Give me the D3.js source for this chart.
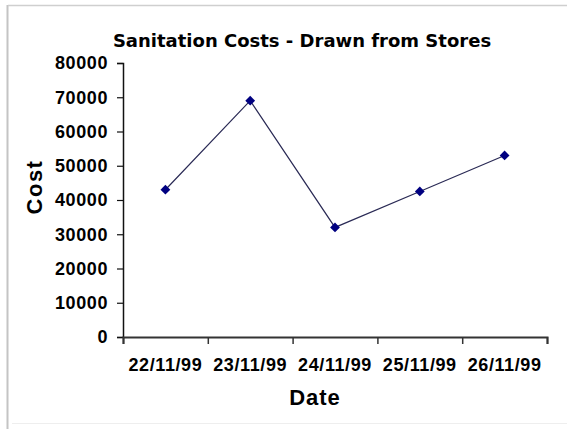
<!DOCTYPE html>
<html>
<head>
<meta charset="utf-8">
<script src="https://cdn.jsdelivr.net/npm/d3@7"></script>
<style>
	body { margin: 0; background: #fff; }
	text { font-family: "Liberation Sans", Arial, sans-serif; font-weight: bold; fill: #000; }
</style>
</head>
<body>
<div id="chart"></div>
<script>
var dates = ['22/11/99', '23/11/99', '24/11/99', '25/11/99', '26/11/99'];
var costs = [43000, 69000, 32000, 42500, 53000];
var yTicks = [0, 10000, 20000, 30000, 40000, 50000, 60000, 70000, 80000];

var width = 585,
	height = 429;
var plot = {
	left: 123,
	right: 547,
	top: 63,
	bottom: 337
};

var svg = d3.select('#chart').append('svg')
	.attr('width', width)
	.attr('height', height);

// frame round the chart
svg.append('line').attr('x1', 7.5).attr('x2', 7.5).attr('y1', 5).attr('y2', height)
	.attr('stroke', '#c4c4c4').attr('stroke-width', 2);
svg.append('line').attr('x1', 8).attr('x2', 567).attr('y1', 5.5).attr('y2', 5.5)
	.attr('stroke', '#cfcfcf').attr('stroke-width', 1.5);
svg.append('line').attr('x1', 12).attr('x2', 567).attr('y1', 423.5).attr('y2', 423.5)
	.attr('stroke', '#eeeeee').attr('stroke-width', 1);

var xScale = d3.scaleBand()
	.domain(dates)
	.range([plot.left, plot.right])
	.padding(0);

var yScale = d3.scaleLinear()
	.domain([0, 80000])
	.range([plot.bottom, plot.top]);

// y axis
var yAxis = svg.append('g')
	.attr('transform', 'translate(' + plot.left + ',0)')
	.call(d3.axisLeft(yScale).tickValues(yTicks).tickSize(6).tickPadding(9).tickFormat(d3.format('d')));
yAxis.select('.domain').attr('stroke', '#111').attr('stroke-width', 1.5);
yAxis.selectAll('.tick line').attr('stroke', '#111').attr('stroke-width', 1.2);
yAxis.selectAll('text')
	.style('font-size', '18px')
	.style('font-family', '"Liberation Sans", Arial')
	.style('font-weight', 'bold')
	.style('letter-spacing', '0.6px');

// x axis: tick marks sit between the categories
var edges = d3.range(dates.length + 1);
var edgeScale = d3.scaleLinear().domain([0, dates.length]).range([plot.left, plot.right]);
var xTicks = svg.append('g')
	.attr('transform', 'translate(0,' + plot.bottom + ')')
	.call(d3.axisBottom(edgeScale).tickValues(edges).tickSize(7).tickFormat(''));
xTicks.select('.domain').attr('stroke', '#333').attr('stroke-width', 2);
xTicks.selectAll('.tick line').attr('stroke', '#333').attr('stroke-width', 1.5);

var xLabels = svg.append('g')
	.attr('transform', 'translate(0,' + plot.bottom + ')')
	.call(d3.axisBottom(xScale).tickSize(0).tickPadding(21));
xLabels.select('.domain').remove();
xLabels.selectAll('text')
	.style('font-size', '18px')
	.style('font-family', '"Liberation Sans", Arial')
	.style('font-weight', 'bold')
	.style('letter-spacing', '0.6px');

// line and markers
var line = d3.line()
	.x((d, i) => xScale(dates[i]) + xScale.bandwidth() / 2)
	.y(d => yScale(d));

svg.append('path')
	.datum(costs)
	.attr('d', line)
	.attr('fill', 'none')
	.attr('stroke', '#2a2a55')
	.attr('stroke-width', 1.2);

svg.selectAll('.marker')
	.data(costs)
	.enter()
	.append('path')
	.attr('class', 'marker')
	.attr('d', d3.symbol().type(d3.symbolSquare).size(48))
	.attr('transform', (d, i) => 'translate(' + (xScale(dates[i]) + xScale.bandwidth() / 2) + ',' + yScale(d) + ') rotate(45)')
	.attr('fill', '#000080');

// titles
svg.append('text')
	.attr('x', 302)
	.attr('y', 47)
	.attr('text-anchor', 'middle')
	.style('font-family', '"DejaVu Sans"')
	.style('font-size', '18px')
	.text('Sanitation Costs - Drawn from Stores');

svg.append('text')
	.attr('x', 315)
	.attr('y', 405)
	.attr('text-anchor', 'middle')
	.style('font-size', '22px')
	.style('letter-spacing', '1px')
	.text('Date');

svg.append('text')
	.attr('transform', 'translate(42,187) rotate(-90)')
	.attr('text-anchor', 'middle')
	.style('font-size', '22px')
	.style('letter-spacing', '1.5px')
	.text('Cost');
</script>
</body>
</html>
